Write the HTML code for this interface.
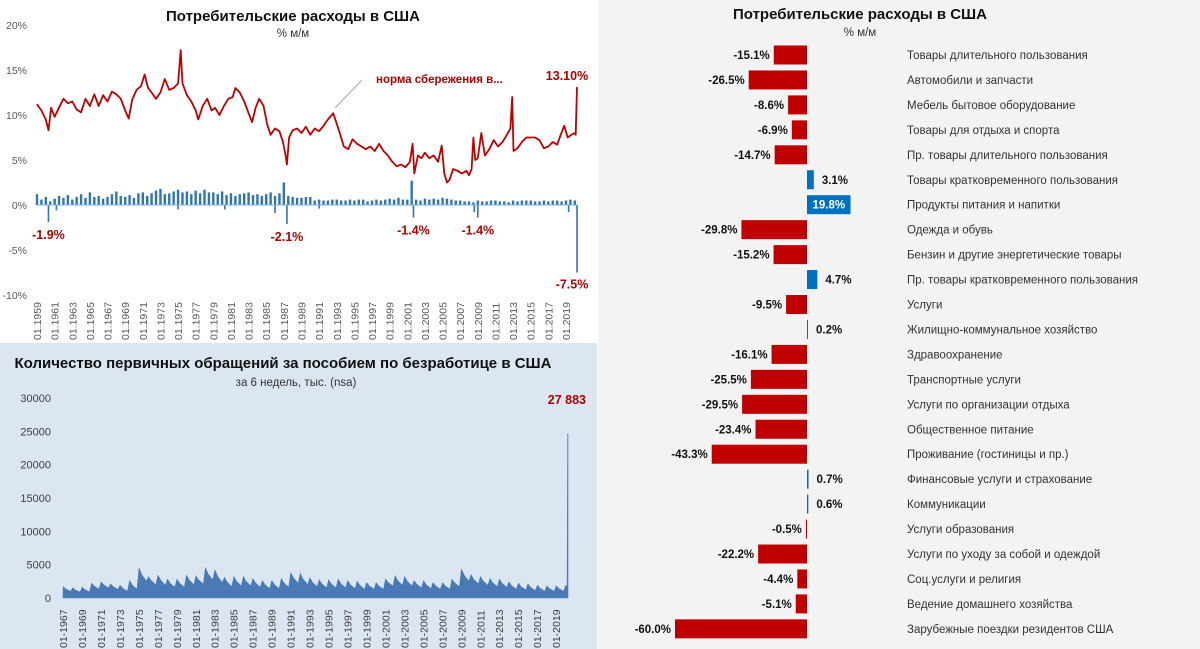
<!DOCTYPE html>
<html><head><meta charset="utf-8">
<style>
body{margin:0;background:#fff;}
svg{display:block;font-family:"Liberation Sans","DejaVu Sans",sans-serif;}
</style></head>
<body>
<svg id="s" width="1200" height="649" viewBox="0 0 1200 649" xmlns="http://www.w3.org/2000/svg">
<rect x="0" y="0" width="1200" height="649" fill="#fff"/>
<rect x="598" y="0" width="602" height="649" fill="#f3f3f3"/>
<rect x="0" y="343" width="597" height="306" fill="#dce6f1"/>
<g id="top">
<text x="293" y="21" text-anchor="middle" font-size="15" font-weight="bold" fill="#111">Потребительские расходы в США</text>
<text x="293" y="37" text-anchor="middle" font-size="11.5" fill="#333">% м/м</text>
</g>
<g id="bot">
<text x="283" y="368" text-anchor="middle" font-size="15" font-weight="bold" fill="#111">Количество первичных обращений за пособием по безработице в США</text>
<text x="296" y="386" text-anchor="middle" font-size="11.5" fill="#333">за 6 недель, тыс. (nsa)</text>
</g>
<g id="right">
<text x="860" y="19" text-anchor="middle" font-size="15" font-weight="bold" fill="#111">Потребительские расходы в США</text>
<text x="860" y="36" text-anchor="middle" font-size="11.5" fill="#333">% м/м</text>
</g>
</svg>
<script>
// ---- top chart data ----
const savDates=[1959.0,1959.5,1960.0,1960.3,1960.6,1961.0,1961.5,1962.0,1962.5,1963.0,1963.5,1964.0,1964.5,1965.0,1965.5,1966.0,1966.5,1967.0,1967.5,1968.0,1968.5,1969.0,1969.4,1969.8,1970.3,1970.8,1971.2,1971.6,1972.0,1972.5,1973.0,1973.5,1974.0,1974.5,1975.0,1975.3,1975.5,1976.0,1976.5,1977.0,1977.3,1977.8,1978.3,1978.8,1979.2,1979.7,1980.2,1980.7,1981.2,1981.5,1982.0,1982.5,1983.0,1983.4,1983.8,1984.2,1984.7,1985.1,1985.5,1986.0,1986.5,1986.9,1987.2,1987.35,1987.6,1988.0,1988.5,1989.0,1989.5,1990.0,1990.5,1991.0,1991.5,1992.0,1992.6,1993.0,1993.4,1993.8,1994.3,1994.8,1995.3,1995.8,1996.3,1996.8,1997.3,1997.8,1998.3,1998.8,1999.3,1999.8,2000.3,2000.8,2001.3,2001.6,2001.8,2002.2,2002.6,2003.0,2003.5,2004.0,2004.5,2004.9,2005.2,2005.5,2005.8,2006.2,2006.7,2007.2,2007.7,2008.0,2008.3,2008.5,2008.7,2009.0,2009.4,2009.8,2010.3,2010.8,2011.3,2011.8,2012.3,2012.7,2012.9,2013.05,2013.5,2014.0,2014.5,2015.0,2015.5,2016.0,2016.5,2017.0,2017.5,2018.0,2018.4,2018.8,2019.2,2019.6,2020.0,2020.1,2020.25];
const savValues=[11.2,10.5,9.5,8.3,10.8,9.8,10.8,11.8,11.3,11.5,10.6,10.3,11.8,11.0,12.3,11.0,12.2,11.5,12.6,12.3,11.8,10.5,9.6,11.7,12.8,13.2,14.5,13.0,12.5,11.8,12.5,14.0,12.8,13.0,13.5,17.2,13.5,12.2,11.5,10.5,9.5,11.0,11.8,10.5,10.8,10.0,11.0,11.8,12.0,13.0,12.5,11.5,10.2,9.2,10.8,11.8,11.0,9.0,7.8,8.5,8.2,7.0,5.5,4.5,7.5,8.3,8.5,8.0,8.7,7.8,8.5,8.2,8.8,9.5,10.2,9.0,7.8,6.5,6.2,7.3,6.8,6.5,6.2,6.5,6.0,6.8,6.0,5.5,4.8,4.3,4.5,4.2,4.8,6.8,3.5,5.5,5.2,5.8,5.2,5.5,4.8,6.6,3.5,2.5,2.8,4.0,3.8,3.5,3.8,3.3,4.0,7.5,5.0,5.2,8.0,5.5,6.2,7.2,6.5,7.0,7.8,8.5,12.0,6.0,6.3,7.0,7.5,7.5,7.5,7.2,6.3,6.5,7.0,6.7,7.8,8.8,7.5,7.8,8.0,7.8,13.1];
const spendStart=1959.0;
const spendValues=[1.2,0.6,0.9,0.4,0.7,1.0,0.8,1.1,0.6,0.9,1.2,0.8,1.4,0.9,1.0,0.7,0.9,1.2,1.5,1.0,0.9,1.1,0.8,1.3,1.4,1.0,1.3,1.6,1.8,1.2,1.3,1.5,1.7,1.4,1.5,1.2,1.6,1.3,1.7,1.4,1.4,1.2,1.5,1.1,1.3,1.0,1.2,1.3,1.4,1.1,1.2,1.0,1.2,1.4,1.0,1.3,2.5,1.0,0.9,0.8,0.8,0.9,0.9,0.5,0.6,0.5,0.5,0.6,0.6,0.5,0.5,0.6,0.5,0.6,0.6,0.4,0.5,0.6,0.5,0.6,0.7,0.6,0.8,0.6,0.6,2.7,0.6,0.5,0.7,0.6,0.7,0.6,0.8,0.7,0.6,0.5,0.5,0.4,0.4,0.3,0.5,0.4,0.4,0.5,0.5,0.4,0.4,0.3,0.5,0.4,0.5,0.5,0.5,0.4,0.4,0.5,0.4,0.5,0.5,0.4,0.5,0.6,0.5];
const negDates=[1960.3,1961.2,1975.0,1980.3,1986.0,1987.35,1991.0,2001.7,2008.6,2009.0,2019.3,2020.25];
const negValues=[-1.9,-0.6,-0.5,-0.5,-0.9,-2.1,-0.4,-1.4,-0.8,-1.4,-0.8,-7.5];
const topTicks=[20,15,10,5,0,-5,-10];
const dipLabels=["-1.9%","-2.1%","-1.4%","-1.4%","-7.5%"];
const dipDates=[1960.3,1987.35,2001.7,2009.0,2020.25];
const dipLabelValues=[-3.8,-4.0,-3.3,-3.3,-9.3];
// ---- claims data ----
const claimYears=[1967,1968,1969,1970,1971,1972,1973,1974,1975,1976,1977,1978,1979,1980,1981,1982,1983,1984,1985,1986,1987,1988,1989,1990,1991,1992,1993,1994,1995,1996,1997,1998,1999,2000,2001,2002,2003,2004,2005,2006,2007,2008,2009,2010,2011,2012,2013,2014,2015,2016,2017,2018,2019,2020];
const claimPeaks=[1700,1500,1600,2200,2400,2100,1900,2600,4500,3200,3400,2800,2800,3400,3300,4500,4200,3100,3200,3200,2900,2600,2600,2900,3800,3700,3000,2700,2700,2800,2600,2500,2300,2300,2800,3300,3200,2600,2600,2300,2300,2800,4300,3500,3200,2900,2800,2400,2200,2100,1900,1800,1800,1900];
const claimLows=[1000,900,900,1300,1500,1300,1000,1300,2500,2000,1900,1600,1600,2000,2100,2700,2300,1700,1800,1800,1600,1400,1400,1600,2200,2000,1700,1500,1500,1500,1400,1300,1300,1300,1800,1900,1800,1500,1400,1300,1300,1700,2500,2100,1900,1700,1600,1300,1200,1100,1000,1000,1000];
const claimSpike=24600;
const claimTicks=[30000,25000,20000,15000,10000,5000,0];
// ---- categories data ----
const categories=["Товары длительного пользования","Автомобили и запчасти","Мебель бытовое оборудование","Товары для отдыха и спорта","Пр. товары длительного пользования","Товары кратковременного пользования","Продукты питания и напитки","Одежда и обувь","Бензин и другие энергетические товары","Пр. товары кратковременного пользования","Услуги","Жилищно-коммунальное хозяйство","Здравоохранение","Транспортные услуги","Услуги по организации отдыха","Общественное питание","Проживание (гостиницы и пр.)","Финансовые услуги и страхование","Коммуникации","Услуги образования","Услуги по уходу за собой и одеждой","Соц.услуги и религия","Ведение домашнего хозяйства","Зарубежные поездки резидентов США"];
const catValues=[-15.1,-26.5,-8.6,-6.9,-14.7,3.1,19.8,-29.8,-15.2,4.7,-9.5,0.2,-16.1,-25.5,-29.5,-23.4,-43.3,0.7,0.6,-0.5,-22.2,-4.4,-5.1,-60.0];

const NS="http://www.w3.org/2000/svg";
function mk(tag,attrs,parent,txt){const e=document.createElementNS(NS,tag);for(const k in attrs)e.setAttribute(k,attrs[k]);if(txt!==undefined)e.textContent=txt;parent.appendChild(e);return e;}
const gTop=document.getElementById('top'),gBot=document.getElementById('bot'),gRight=document.getElementById('right');

// top axes
const tx=d=>37+(d-1959)*(577-37)/(2020.25-1959);
const ty=v=>205-v*9;
topTicks.forEach(t=>{
 const e=mk('text',{x:27,y:ty(t)+4,'text-anchor':'end','font-size':10.5,fill:'#595959'},gTop,t+'%');
 
 
});
for(let y=1959;y<=2019;y+=2){
 const e=mk('text',{transform:`translate(${tx(y)+4},340) rotate(-90)`,'font-size':10.5,fill:'#595959'},gTop,'01.'+y);
 
 
}
spendValues.forEach((v,i)=>{
 const d=spendStart+i*0.5;
 const e=mk('rect',{x:tx(d)-1.2,y:ty(v),width:2.4,height:ty(0)-ty(v),fill:'#2e75b6'},gTop);
 
 
});
negValues.forEach((v,i)=>{
 const e=mk('rect',{x:tx(negDates[i])-0.8,y:ty(0),width:1.6,height:ty(v)-ty(0),fill:'#2e75b6'},gTop);
 
 
});
mk('line',{x1:tx(1959),x2:tx(2020.25),y1:ty(0),y2:ty(0),stroke:'#7fb0dc','stroke-width':1},gTop);
const sp=savDates.map((d,i)=>tx(d).toFixed(1)+','+ty(savValues[i]).toFixed(1)).join(' ');
const sl=mk('polyline',{points:sp,fill:'none',stroke:'#c00000','stroke-width':1.8,'stroke-linejoin':'round'},gTop);


dipLabels.forEach((l,i)=>{
 const e=mk('text',{x:tx(dipDates[i])+(i==4?-5:0),y:ty(dipLabelValues[i]),'text-anchor':'middle','font-size':12.5,'font-weight':'bold',fill:'#b00000'},gTop,l);
 
 
});
mk('line',{x1:335,y1:108,x2:362,y2:80,stroke:'#aaa','stroke-width':1},gTop);
let a=mk('text',{x:376,y:83,'font-size':11.5,'font-weight':'bold',fill:'#b00000'},gTop,'норма сбережения в...');


a=mk('text',{x:567,y:80,'text-anchor':'middle','font-size':12.5,'font-weight':'bold',fill:'#b00000'},gTop,savValues[savValues.length-1].toFixed(2)+'%');



// claims chart
const cx=d=>63+(d-1967)*(568-63)/(2020.25-1967);
const cy=v=>598-v*200/30000;
claimTicks.forEach(t=>{
 const e=mk('text',{x:51,y:cy(t)+4,'text-anchor':'end','font-size':11,fill:'#404040'},gBot,t);
 
 
});
for(let y=1967;y<=2019;y+=2){
 const e=mk('text',{transform:`translate(${cx(y)+4},648) rotate(-90)`,'font-size':10.5,fill:'#404040'},gBot,'01-'+y);
 
 
}
let pts=[[cx(1967),cy(0)]];
claimYears.forEach((y,i)=>{
 pts.push([cx(y+0.02),cy(claimPeaks[i])]);
 if(i<claimLows.length){pts.push([cx(y+0.3),cy((claimPeaks[i]+claimLows[i])/2)]);pts.push([cx(y+0.8),cy(claimLows[i])]);}
});
pts.push([cx(2020.15),cy(1600)]);pts.push([cx(2020.22),cy(claimSpike)]);pts.push([cx(2020.25),cy(claimSpike)]);pts.push([cx(2020.25),cy(0)]);
const ar=mk('polygon',{points:pts.map(p=>p[0].toFixed(1)+','+p[1].toFixed(1)).join(' '),fill:'#4a7ab5',stroke:'#4a7ab5','stroke-width':0.6},gBot);


a=mk('text',{x:586,y:404,'text-anchor':'end','font-size':12.5,'font-weight':'bold',fill:'#b00000'},gBot,'27 883');



// right chart
const rx=v=>807+v*2.2;
const ry=i=>55+i*24.95;
categories.forEach((c,i)=>{
 const v=catValues[i];
 const x0=Math.min(rx(0),rx(v)),w=Math.max(Math.abs(rx(v)-rx(0)),1);
 const b=mk('rect',{x:x0,y:ry(i)-9.5,width:w,height:19,fill:v<0?'#c00000':'#0070c0'},gRight);
 
 
 let lx,anchor,col='#111';
 if(v<0){lx=x0-4;anchor='end';}
 else if(v>15){lx=x0+w/2;anchor='middle';col='#fff';}
 else{lx=x0+w+8;anchor='start';}
 const t=mk('text',{x:lx,y:ry(i)+4,'text-anchor':anchor,'font-size':11.5,'font-weight':'bold',fill:col},gRight,v.toFixed(1)+'%');
 
 
 const n=mk('text',{x:907,y:ry(i)+4,'font-size':11.5,fill:'#333'},gRight,c);
 
 
});
</script>
</body></html>
